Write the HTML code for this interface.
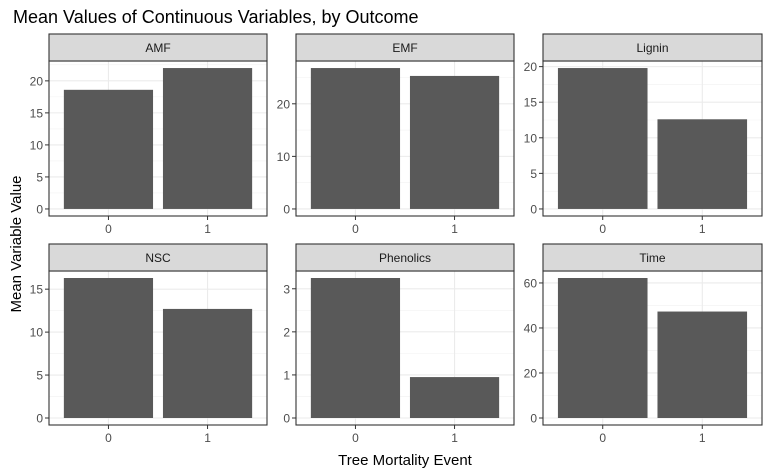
<!DOCTYPE html>
<html><head><meta charset="utf-8"><style>body{margin:0;background:#fff}svg{display:block}</style></head>
<body>
<svg id="chart" width="770" height="475" xmlns="http://www.w3.org/2000/svg" font-family="Liberation Sans, sans-serif">
<text x="13" y="23" font-size="18" fill="#000">Mean Values of Continuous Variables, by Outcome</text>
<text x="405" y="465" font-size="15" text-anchor="middle" fill="#000">Tree Mortality Event</text>
<text transform="translate(21,244) rotate(-90)" font-size="15" text-anchor="middle" fill="#000">Mean Variable Value</text>
</svg>
<script>
const facets = ["AMF","EMF","Lignin","NSC","Phenolics","Time"];
const categories = ["0","1"];
const values0 = [18.6, 26.8, 19.8, 16.3, 3.25, 62.2];
const values1 = [22.0, 25.3, 12.6, 12.7, 0.95, 47.3];
const tickSteps = [5, 10, 5, 5, 1, 20];

const svg = document.getElementById('chart');
const NS = 'http://www.w3.org/2000/svg';
function mk(tag, attrs, parent){const e=document.createElementNS(NS,tag);for(const k in attrs)e.setAttribute(k,attrs[k]);(parent||svg).appendChild(e);return e;}
const cols = [[49,267],[296,514],[543,762]];
const rows = [[34,61,216],[244,271,425]];
facets.forEach((f,i)=>{
  const [x0,x1] = cols[i%3];
  const [sTop,pTop,pBot] = rows[Math.floor(i/3)];
  const vals = [values0[i], values1[i]];
  const vmax = Math.max(...vals);
  const lo = -0.05*vmax, hi = vmax*1.05;
  const y = v => pBot - (v-lo)/(hi-lo)*(pBot-pTop);
  const xs = k => x0 + (k+1-0.4)/2.2*(x1-x0);
  const g = mk('g',{});
  
  
  const step = tickSteps[i];
  // minor grid
  for(let t=step/2; t<hi; t+=step){ const l=mk('line',{x1:x0,x2:x1,y1:y(t),y2:y(t),stroke:'#f2f2f2','stroke-width':0.6},g); }
  for(let t=0; t<=hi; t+=step){
    mk('line',{x1:x0,x2:x1,y1:y(t),y2:y(t),stroke:'#ebebeb','stroke-width':1.1},g);
    mk('line',{x1:x0-4,x2:x0,y1:y(t),y2:y(t),stroke:'#333','stroke-width':1},g);
    const tl = mk('text',{x:x0-6,y:y(t)+4.5,'font-size':12,'text-anchor':'end',fill:'#4d4d4d'},g);
    tl.textContent = String(+t.toFixed(2));
    
    
  }
  categories.forEach((c,k)=>{
    const cx = xs(k);
    mk('line',{x1:cx,x2:cx,y1:pTop,y2:pBot,stroke:'#ebebeb','stroke-width':1.1},g);
  });
  categories.forEach((c,k)=>{
    const cx = xs(k), bw = 0.9/2.2*(x1-x0);
    const r = mk('rect',{x:cx-bw/2,y:y(vals[k]),width:bw,height:y(0)-y(vals[k]),fill:'#595959'},g);
    
    
    mk('line',{x1:cx,x2:cx,y1:pBot,y2:pBot+4,stroke:'#333','stroke-width':1},g);
    const tl = mk('text',{x:cx,y:pBot+17,'font-size':12,'text-anchor':'middle',fill:'#4d4d4d'},g);
    tl.textContent = c;
    
    
  });
  mk('rect',{x:x0,y:pTop,width:x1-x0,height:pBot-pTop,fill:'none',stroke:'#333','stroke-width':1.1},g);
  const s = mk('rect',{x:x0,y:sTop,width:x1-x0,height:pTop-sTop,fill:'#d9d9d9',stroke:'#333','stroke-width':1.1},g);
  
  
  const st = mk('text',{x:(x0+x1)/2,y:(sTop+pTop)/2+4.5,'font-size':12,'text-anchor':'middle',fill:'#1a1a1a'},g);
  st.textContent = f;
  
  
});
</script>
</body></html>
